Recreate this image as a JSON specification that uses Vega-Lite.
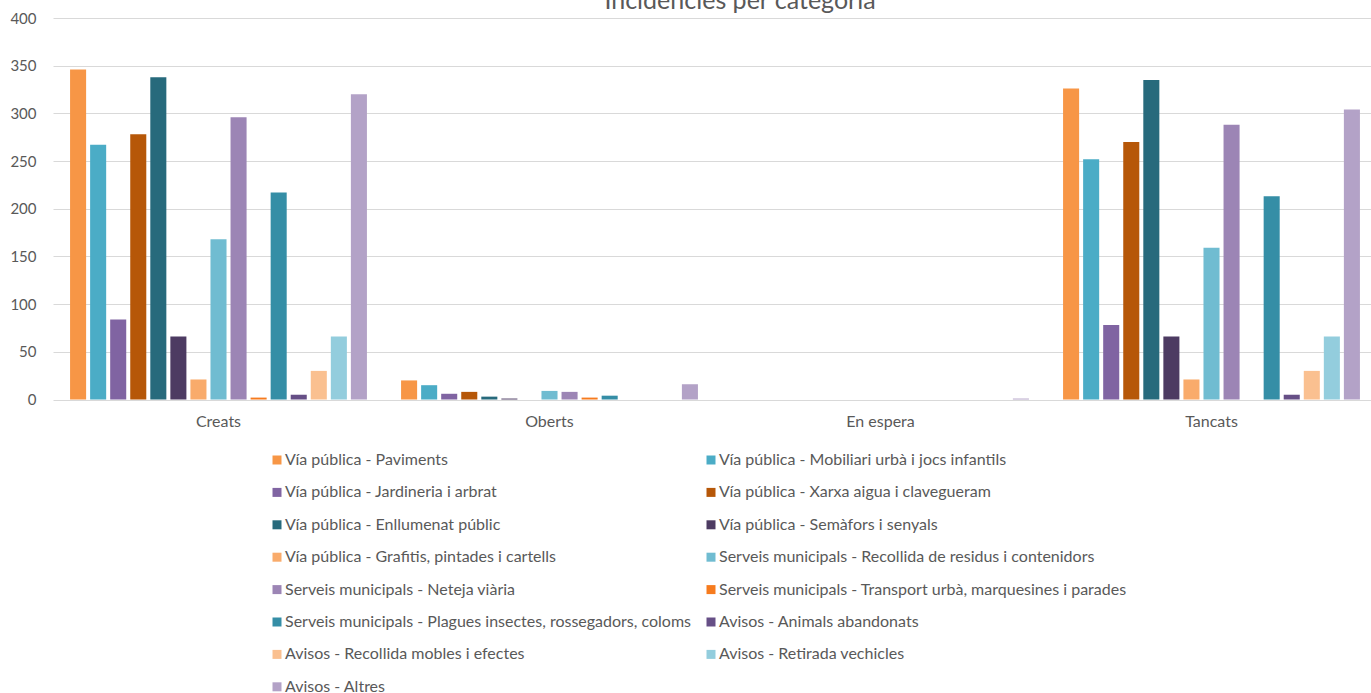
{
  "$schema": "https://vega.github.io/schema/vega-lite/v6.json",
  "autosize": {"type": "none"},
  "width": 1324,
  "height": 381.5,
  "padding": {"left": 53, "top": 18, "right": 0, "bottom": 293.5},
  "background": "white",
  "title": {
    "text": "Incidències per categoria",
    "font": "Lato",
    "fontSize": 25,
    "fontWeight": "normal",
    "color": "#595959",
    "anchor": "middle",
    "dx": 25,
    "offset": -3
  },
  "config": {
    "view": {"stroke": null},
    "font": "Lato"
  },
  "data": {
    "values": [
      {"estat": "Creats", "categoria": "Vía pública - Paviments", "valor": 346},
      {"estat": "Creats", "categoria": "Vía pública - Mobiliari urbà i jocs infantils", "valor": 267},
      {"estat": "Creats", "categoria": "Vía pública - Jardineria i arbrat", "valor": 84},
      {"estat": "Creats", "categoria": "Vía pública - Xarxa aigua i clavegueram", "valor": 278},
      {"estat": "Creats", "categoria": "Vía pública - Enllumenat públic", "valor": 338},
      {"estat": "Creats", "categoria": "Vía pública - Semàfors i senyals", "valor": 66},
      {"estat": "Creats", "categoria": "Vía pública - Grafitis, pintades i cartells", "valor": 21},
      {"estat": "Creats", "categoria": "Serveis municipals - Recollida de residus i contenidors", "valor": 168},
      {"estat": "Creats", "categoria": "Serveis municipals - Neteja viària", "valor": 296},
      {"estat": "Creats", "categoria": "Serveis municipals - Transport urbà, marquesines i parades", "valor": 2},
      {"estat": "Creats", "categoria": "Serveis municipals - Plagues insectes, rossegadors, coloms", "valor": 217},
      {"estat": "Creats", "categoria": "Avisos - Animals abandonats", "valor": 5},
      {"estat": "Creats", "categoria": "Avisos - Recollida mobles i efectes", "valor": 30},
      {"estat": "Creats", "categoria": "Avisos - Retirada vechicles", "valor": 66},
      {"estat": "Creats", "categoria": "Avisos - Altres", "valor": 320},

      {"estat": "Oberts", "categoria": "Vía pública - Paviments", "valor": 20},
      {"estat": "Oberts", "categoria": "Vía pública - Mobiliari urbà i jocs infantils", "valor": 15},
      {"estat": "Oberts", "categoria": "Vía pública - Jardineria i arbrat", "valor": 6},
      {"estat": "Oberts", "categoria": "Vía pública - Xarxa aigua i clavegueram", "valor": 8},
      {"estat": "Oberts", "categoria": "Vía pública - Enllumenat públic", "valor": 3},
      {"estat": "Oberts", "categoria": "Vía pública - Semàfors i senyals", "valor": 1},
      {"estat": "Oberts", "categoria": "Vía pública - Grafitis, pintades i cartells", "valor": 0},
      {"estat": "Oberts", "categoria": "Serveis municipals - Recollida de residus i contenidors", "valor": 9},
      {"estat": "Oberts", "categoria": "Serveis municipals - Neteja viària", "valor": 8},
      {"estat": "Oberts", "categoria": "Serveis municipals - Transport urbà, marquesines i parades", "valor": 2},
      {"estat": "Oberts", "categoria": "Serveis municipals - Plagues insectes, rossegadors, coloms", "valor": 4},
      {"estat": "Oberts", "categoria": "Avisos - Animals abandonats", "valor": 0},
      {"estat": "Oberts", "categoria": "Avisos - Recollida mobles i efectes", "valor": 0},
      {"estat": "Oberts", "categoria": "Avisos - Retirada vechicles", "valor": 0},
      {"estat": "Oberts", "categoria": "Avisos - Altres", "valor": 16},

      {"estat": "En espera", "categoria": "Vía pública - Paviments", "valor": 0},
      {"estat": "En espera", "categoria": "Vía pública - Mobiliari urbà i jocs infantils", "valor": 0},
      {"estat": "En espera", "categoria": "Vía pública - Jardineria i arbrat", "valor": 0},
      {"estat": "En espera", "categoria": "Vía pública - Xarxa aigua i clavegueram", "valor": 0},
      {"estat": "En espera", "categoria": "Vía pública - Enllumenat públic", "valor": 0},
      {"estat": "En espera", "categoria": "Vía pública - Semàfors i senyals", "valor": 0},
      {"estat": "En espera", "categoria": "Vía pública - Grafitis, pintades i cartells", "valor": 0},
      {"estat": "En espera", "categoria": "Serveis municipals - Recollida de residus i contenidors", "valor": 0},
      {"estat": "En espera", "categoria": "Serveis municipals - Neteja viària", "valor": 0},
      {"estat": "En espera", "categoria": "Serveis municipals - Transport urbà, marquesines i parades", "valor": 0},
      {"estat": "En espera", "categoria": "Serveis municipals - Plagues insectes, rossegadors, coloms", "valor": 0},
      {"estat": "En espera", "categoria": "Avisos - Animals abandonats", "valor": 0},
      {"estat": "En espera", "categoria": "Avisos - Recollida mobles i efectes", "valor": 0},
      {"estat": "En espera", "categoria": "Avisos - Retirada vechicles", "valor": 0},
      {"estat": "En espera", "categoria": "Avisos - Altres", "valor": 1},

      {"estat": "Tancats", "categoria": "Vía pública - Paviments", "valor": 326},
      {"estat": "Tancats", "categoria": "Vía pública - Mobiliari urbà i jocs infantils", "valor": 252},
      {"estat": "Tancats", "categoria": "Vía pública - Jardineria i arbrat", "valor": 78},
      {"estat": "Tancats", "categoria": "Vía pública - Xarxa aigua i clavegueram", "valor": 270},
      {"estat": "Tancats", "categoria": "Vía pública - Enllumenat públic", "valor": 335},
      {"estat": "Tancats", "categoria": "Vía pública - Semàfors i senyals", "valor": 66},
      {"estat": "Tancats", "categoria": "Vía pública - Grafitis, pintades i cartells", "valor": 21},
      {"estat": "Tancats", "categoria": "Serveis municipals - Recollida de residus i contenidors", "valor": 159},
      {"estat": "Tancats", "categoria": "Serveis municipals - Neteja viària", "valor": 288},
      {"estat": "Tancats", "categoria": "Serveis municipals - Transport urbà, marquesines i parades", "valor": 0},
      {"estat": "Tancats", "categoria": "Serveis municipals - Plagues insectes, rossegadors, coloms", "valor": 213},
      {"estat": "Tancats", "categoria": "Avisos - Animals abandonats", "valor": 5},
      {"estat": "Tancats", "categoria": "Avisos - Recollida mobles i efectes", "valor": 30},
      {"estat": "Tancats", "categoria": "Avisos - Retirada vechicles", "valor": 66},
      {"estat": "Tancats", "categoria": "Avisos - Altres", "valor": 304}
    ]
  },
  "mark": {"type": "bar"},
  "encoding": {
    "x": {
      "field": "estat",
      "type": "nominal",
      "sort": ["Creats", "Oberts", "En espera", "Tancats"],
      "scale": {"paddingInner": 0.091, "paddingOuter": 0.0455},
      "axis": {
        "title": null,
        "labelAngle": 0,
        "labelFont": "Lato",
        "labelFontSize": 16,
        "labelColor": "#595959",
        "labelPadding": 14,
        "ticks": false,
        "domain": false
      }
    },
    "xOffset": {
      "field": "categoria",
      "type": "nominal",
      "sort": null,
      "scale": {"paddingInner": 0.2, "paddingOuter": 0.1}
    },
    "y": {
      "field": "valor",
      "type": "quantitative",
      "scale": {"domain": [0, 400], "nice": false},
      "axis": {
        "title": null,
        "values": [0, 50, 100, 150, 200, 250, 300, 350, 400],
        "labelFont": "Lato",
        "labelFontSize": 15,
        "labelColor": "#595959",
        "labelPadding": 17,
        "ticks": false,
        "domain": false,
        "gridColor": "#D9D9D9",
        "gridWidth": 1
      }
    },
    "color": {
      "field": "categoria",
      "type": "nominal",
      "scale": {
        "domain": [
          "Vía pública - Paviments",
          "Vía pública - Mobiliari urbà i jocs infantils",
          "Vía pública - Jardineria i arbrat",
          "Vía pública - Xarxa aigua i clavegueram",
          "Vía pública - Enllumenat públic",
          "Vía pública - Semàfors i senyals",
          "Vía pública - Grafitis, pintades i cartells",
          "Serveis municipals - Recollida de residus i contenidors",
          "Serveis municipals - Neteja viària",
          "Serveis municipals - Transport urbà, marquesines i parades",
          "Serveis municipals - Plagues insectes, rossegadors, coloms",
          "Avisos - Animals abandonats",
          "Avisos - Recollida mobles i efectes",
          "Avisos - Retirada vechicles",
          "Avisos - Altres"
        ],
        "range": [
          "#F79646", "#4BACC6", "#8064A2", "#B65708", "#276A7C",
          "#4D3B62", "#F9AB6B", "#70BCD1", "#9C85B5", "#F67B1E",
          "#358EA6", "#664F86", "#FAC090", "#93CDDD", "#B3A2C7"
        ]
      },
      "legend": {
        "title": null,
        "orient": "none",
        "legendX": 216,
        "legendY": 434,
        "columns": 2,
        "direction": "horizontal",
        "symbolType": "square",
        "symbolSize": 81,
        "symbolStrokeWidth": 0,
        "labelFont": "Lato",
        "labelFontSize": 16,
        "labelColor": "#595959",
        "labelOffset": 0,
        "labelLimit": 600,
        "rowPadding": 16.4,
        "columnPadding": 11
      }
    }
  }
}
